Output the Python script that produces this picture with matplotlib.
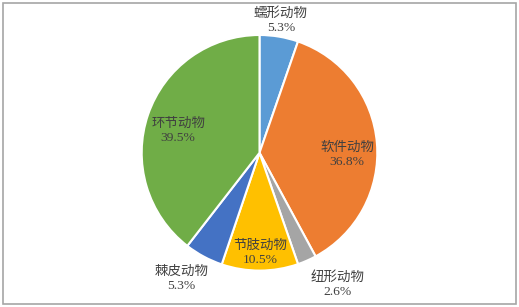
import matplotlib
matplotlib.use('Agg')
import matplotlib.pyplot as plt
from matplotlib.patches import Rectangle

# ========== 数据 ==========
categories = ['蠕形动物', '软件动物', '纽形动物', '节肢动物', '棘皮动物', '环节动物']
percents = [5.3, 36.8, 2.6, 10.5, 5.3, 39.5]
pct_labels = ['5.3%', '36.8%', '2.6%', '10.5%', '5.3%', '39.5%']
colors = ['#5B9BD5', '#ED7D31', '#A5A5A5', '#FFC000', '#4472C4', '#70AD47']

# label block centres, in units of the pie radius
label_pos = [(0.183, 1.12), (0.745, -0.015), (0.660, -1.12),
             (0.004, -0.85), (-0.665, -1.07), (-0.69, 0.185)]

plt.rcParams['font.family'] = ['Liberation Serif', 'Noto Sans CJK SC']

W, H = 519, 307
fig = plt.figure(figsize=(W / 100, H / 100), dpi=100, facecolor='white')

cx, cy, r = 259.5, H - 152.8, 117.8
ax = fig.add_axes([(cx - r) / W, (cy - r) / H, 2 * r / W, 2 * r / H])
ax.pie(percents, colors=colors, startangle=90, counterclock=False, radius=1,
       wedgeprops=dict(edgecolor='white', linewidth=1.5))
ax.set_xlim(-1, 1)
ax.set_ylim(-1, 1)
ax.set_aspect('equal')
ax.axis('off')

for name, pct, (x, y) in zip(categories, pct_labels, label_pos):
    ax.text(x, y, f'{name}\n{pct}', ha='center', va='center', fontsize=9.7,
            color='#404040', linespacing=1.25, clip_on=False)

fig.patches.append(Rectangle((3 / W, 3 / H), 512.5 / W, 301 / H, transform=fig.transFigure,
                             fill=False, edgecolor='#A6A6A6', linewidth=1.2))

fig.savefig('out.png', dpi=100, facecolor='white')
